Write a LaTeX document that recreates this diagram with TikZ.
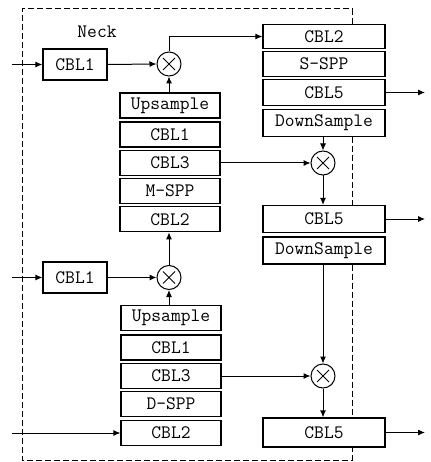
\documentclass[tikz,border=0pt]{standalone}
\usetikzlibrary{arrows.meta,calc}
\begin{document}
\begin{tikzpicture}[x=1pt,y=-1pt,
  lbl/.style={font=\ttfamily\fontsize{19}{20}\selectfont},
  blk/.style={lbl,draw,line width=1.1pt,rectangle,inner sep=0pt,minimum height=25pt},
  stk/.style={blk,minimum width=100pt},
  rcol/.style={blk,minimum width=122pt},
  inbox/.style={blk,minimum width=64pt,minimum height=31pt},
  mul/.style={draw,line width=1pt,circle,minimum size=24pt,inner sep=0pt,
    path picture={\draw[line width=0.9pt]
      ([shift={(-6pt,-6pt)}]path picture bounding box.center) -- ([shift={(6pt,6pt)}]path picture bounding box.center)
      ([shift={(-6pt,6pt)}]path picture bounding box.center) -- ([shift={(6pt,-6pt)}]path picture bounding box.center);}},
  arr/.style={line width=1pt,-{Latex[length=7pt,width=6pt]}},
  ln/.style={line width=1pt},
  border/.style={line width=1pt,dash pattern=on 6pt off 3pt}
]
\useasboundingbox (0,0) rectangle (430,462);

% left input boxes
\node[inbox] (ia) at (75,64.5) {CBL1};
\node[inbox] (ib) at (75,277.5) {CBL1};

% upper stack
\node[stk] (ua) at (170,105.5) {Upsample};
\node[stk] (ub) at (170,134.5) {CBL1};
\node[stk] (uc) at (170,163) {CBL3};
\node[stk] (ud) at (170,191) {M-SPP};
\node[stk] (ue) at (170,219.3) {CBL2};

% lower stack
\node[stk] (la) at (171,318) {Upsample};
\node[stk] (lb) at (171,347.5) {CBL1};
\node[stk] (lc) at (171,376) {CBL3};
\node[stk] (ld) at (171,404) {D-SPP};
\node[stk] (le) at (171,433) {CBL2};

% right column
\node[rcol,minimum height=24.5pt] (ra) at (324,36.5) {CBL2};
\node[rcol,minimum height=24.5pt] (rb) at (324,64) {S-SPP};
\node[rcol,minimum height=25.5pt] (rc) at (324,92.5) {CBL5};
\node[rcol,minimum height=26.5pt] (rd) at (324,123) {DownSample};
\node[rcol,minimum height=27pt] (re) at (324,219) {CBL5};
\node[rcol,minimum height=27pt] (rf) at (324,250.5) {DownSample};
\node[rcol,minimum height=29pt] (rg) at (324,432.5) {CBL5};

% multipliers
\node[mul] (m1) at (169,64) {};
\node[mul] (m2) at (323,163) {};
\node[mul] (m3) at (323,376) {};
\node[mul] (m4) at (169,277.5) {};

\node[lbl] (neck) at (97,32) {Neck};

% free ends
\coordinate (in1) at (12,64.5);
\coordinate (in2) at (12,277.5);
\coordinate (in3) at (12,433);
\coordinate (o1) at (425,92.5);
\coordinate (o2) at (425,219);
\coordinate (o3) at (425,432.5);

% inputs
\draw[arr] (in1) -- (ia.west);
\draw[arr] (in2) -- (ib.west);
\draw[arr] (in3) -- (le.west);
\draw[arr] (ia.east) -- (m1.west);
\draw[arr] (ib.east) -- (m4.west);

% vertical flows on left
\draw[arr] (ua.north -| m1) -- (m1.south);
\draw[arr] (la.north -| m4) -- (m4.south);
\draw[arr] (m4.north) -- (ue.south -| m4);
\draw[ln,-{Latex[length=7pt,width=6pt]}] (m1.north) |- (ra.west);

% right side
\draw[arr] (rd.south -| m2) -- (m2.north);
\draw[arr] (m2.south) -- (re.north -| m2);
\draw[arr] (uc.east) -- (m2.west);
\draw[arr] (rf.south -| m3) -- (m3.north);
\draw[arr] (m3.south) -- (rg.north -| m3);
\draw[arr] (lc.east) -- (m3.west);

% outputs
\draw[arr] (rc.east) -- (o1);
\draw[arr] (re.east) -- (o2);
\draw[arr] (rg.east) -- (o3);

% dashed border
\draw[border] (ra.north -| 352,0) -- (352,9) -- (22,9) -- (22,460) -- (352,460) -- (rg.south -| 352,0);
\draw[border] (rd.south -| 352,0) -- (re.north -| 352,0);
\draw[border] (rf.south -| 352,0) -- (rg.north -| 352,0);
\end{tikzpicture}
\end{document}
